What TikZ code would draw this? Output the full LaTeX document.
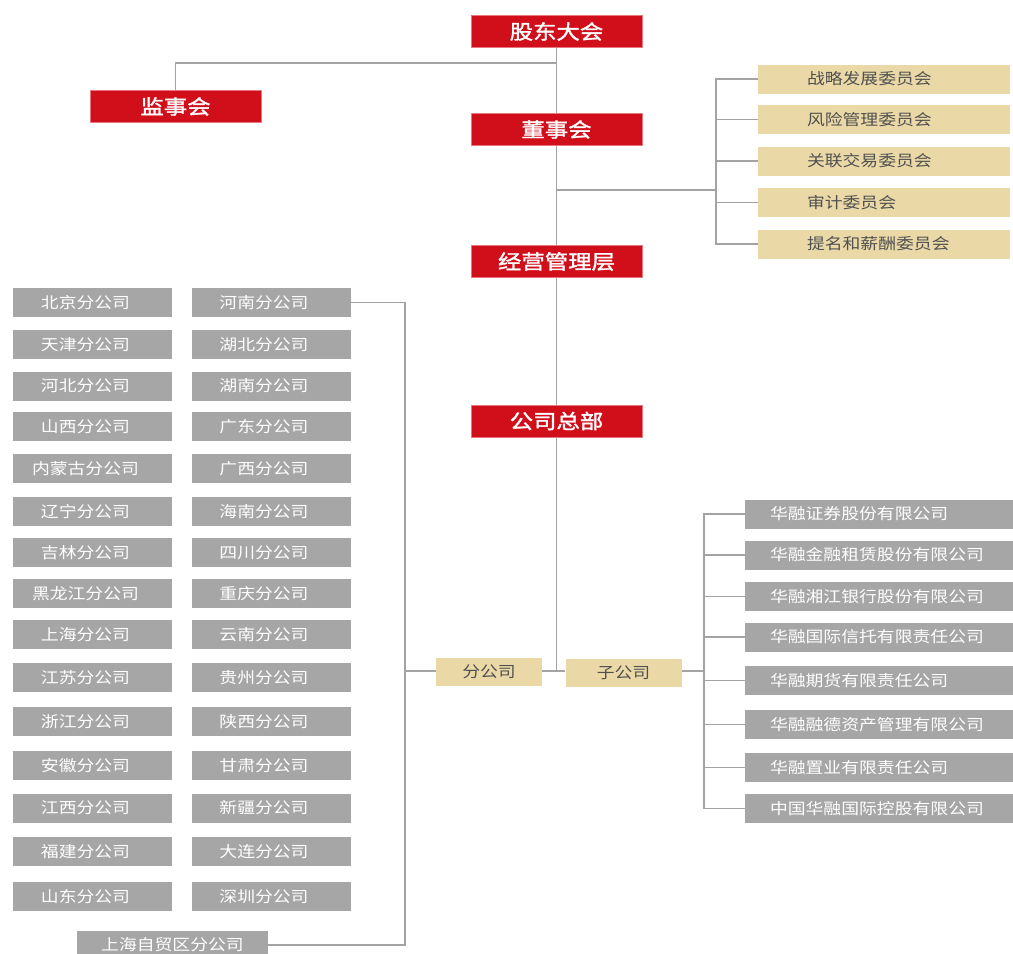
\documentclass[tikz,border=0pt]{standalone}
\usepackage{fontspec}
\setmainfont{Noto Sans CJK SC}[FakeStretch=1.15]
\newfontfamily\redfont{Noto Sans CJK SC}[FakeStretch=1.17, FakeBold=1.6]
\definecolor{hred}{HTML}{D10F1B}
\definecolor{hredlt}{HTML}{E8787E}
\definecolor{htan}{HTML}{EAD9A7}
\definecolor{hgray}{HTML}{A6A6A6}
\definecolor{hline}{HTML}{A3A3A3}
\definecolor{htxt}{HTML}{505050}
\tikzset{
  redbox/.style={fill=hred, draw=hredlt, line width=0.8pt, text=white, minimum width=171pt, minimum height=32pt, inner sep=0pt, font=\fontsize{20}{20}\redfont},
  graybase/.style={fill=hgray, text=white, minimum width=159pt, minimum height=29pt, inner sep=0pt, font=\fontsize{15.5}{15.5}\selectfont},
  brbox/.style={graybase, execute at end node={\hspace*{14pt}}},
  subbox/.style={fill=hgray, text=white, text width=225pt, align=left, inner xsep=25pt, inner ysep=0pt, minimum height=29pt, font=\fontsize{15.5}{15.5}\selectfont},
  combox/.style={fill=htan, text=htxt, text width=154pt, align=left, inner xsep=49pt, inner ysep=0pt, minimum height=29pt, font=\fontsize{15.5}{15.5}\selectfont},
  tanbox/.style={fill=htan, text=htxt, minimum height=28pt, inner sep=0pt, font=\fontsize{15.5}{15.5}\selectfont},
  conn/.style={draw=hline, line width=1.4pt}
}
\begin{document}
\begin{tikzpicture}[x=1pt,y=-1pt]
\useasboundingbox (0,0) rectangle (1013,954);
\fill[white] (0,0) rectangle (1013,954);

% red boxes
\node[redbox] (gd) at (556.5,31.5) {股东大会};
\node[redbox] (js) at (175.5,106.5) {监事会};
\node[redbox] (ds) at (556.5,129.5) {董事会};
\node[redbox] (jy) at (556.5,261.5) {经营管理层};
\node[redbox] (zb) at (556.5,421) {公司总部};

% committees
\node[combox] (c1) at (884,79) {战略发展委员会};
\node[combox] (c2) at (884,119.5) {风险管理委员会};
\node[combox] (c3) at (884,161) {关联交易委员会};
\node[combox] (c4) at (884,202.5) {审计委员会};
\node[combox] (c5) at (884,244) {提名和薪酬委员会};

% middle tan boxes
\node[tanbox, minimum width=106pt] (fg) at (489,671.5) {分公司};
\node[tanbox, minimum width=116pt] (zg) at (623.5,672.5) {子公司};

% branches
\foreach \n/\y/\pa/\pb in {1/302.5/北京/河南, 2/344.5/天津/湖北, 3/386/河北/湖南, 4/426.5/山西/广东, 5/468.5/内蒙古/广西, 6/511.5/辽宁/海南, 7/552.5/吉林/四川, 8/593.5/黑龙江/重庆, 9/634.5/上海/云南, 10/677.5/江苏/贵州, 11/721.5/浙江/陕西, 12/765.5/安徽/甘肃, 13/808/江西/新疆, 14/851.5/福建/大连, 15/896.5/山东/深圳}{
  \node[brbox] (l\n) at (92.5,\y) {{\pa}分公司};
  \node[brbox] (r\n) at (271,\y) {{\pb}分公司};
}
\node[graybase, minimum width=191pt] (sh) at (172.5,945) {上海自贸区分公司};

% subsidiaries
\node[subbox] (s1) at (882.5,514) {华融证券股份有限公司};
\node[subbox] (s2) at (882.5,555) {华融金融租赁股份有限公司};
\node[subbox] (s3) at (882.5,596.5) {华融湘江银行股份有限公司};
\node[subbox] (s4) at (882.5,637) {华融国际信托有限责任公司};
\node[subbox] (s5) at (882.5,680.5) {华融期货有限责任公司};
\node[subbox] (s6) at (882.5,724.5) {华融融德资产管理有限公司};
\node[subbox] (s7) at (882.5,767.5) {华融置业有限责任公司};
\node[subbox] (s8) at (882.5,808.5) {中国华融国际控股有限公司};

% coordinates
\coordinate (j1) at (556.5,63);
\coordinate (j2) at (556.5,190);
\coordinate (cb) at (716,190);
\coordinate (j3) at (556.5,671);
\coordinate (sb) at (704,671);
\coordinate (lb) at (405,671);

% connectors
\draw[conn] (gd.south) -- (ds.north);
\draw[conn] (j1) -| (js.north);
\draw[conn] (ds.south) -- (jy.north);
\draw[conn] (jy.south) -- (zb.north);
\draw[conn] (zb.south) -- (j3);
\draw[conn] (j2) -- (cb);
\draw[conn] (c1.west) -- (c1.west -| cb) -- (c5.west -| cb) -- (c5.west);
\foreach \c in {c2,c3,c4}{\draw[conn] (\c.west) -- (\c.west -| cb);}
\draw[conn] (fg.east |- j3) -- (zg.west |- j3);
\draw[conn] (zg.east |- sb) -- (sb);
\draw[conn] (s1.west) -- (s1.west -| sb) -- (s8.west -| sb) -- (s8.west);
\foreach \c in {s2,s3,s4,s5,s6,s7}{\draw[conn] (\c.west) -- (\c.west -| sb);}
\draw[conn] (fg.west |- lb) -- (lb);
\draw[conn] (r1.east) -| (lb) |- (sh.east);
\end{tikzpicture}
\end{document}
